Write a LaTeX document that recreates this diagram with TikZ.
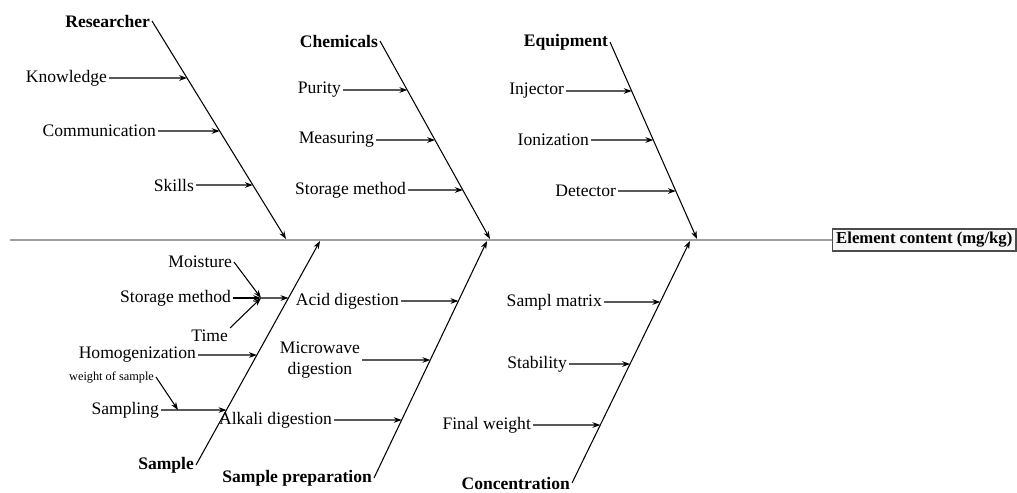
\documentclass[tikz,border=0pt]{standalone}
\usepackage{fontspec}
\setmainfont{Liberation Serif}
\usetikzlibrary{arrows.meta,positioning}

\begin{document}
\begin{tikzpicture}[
    x=0.02cm, y=-0.02cm,
    cause/.style={font=\bfseries, inner sep=1pt, anchor=east},
    factor/.style={inner sep=1pt, anchor=east, align=center},
    arrow/.style={-{Stealth[length=4.5pt,width=3.2pt]}, line width=0.6pt},
    spine/.style={line width=1.2pt, gray!75},
    result/.style={rectangle, draw=black!70, fill=gray!6, line width=0.8pt, inner sep=2pt, anchor=west, font=\bfseries\fontsize{9.5}{11}\selectfont}
]
\useasboundingbox (0,0) rectangle (1017,493);

% spine and effect
\node[result] (element) at (832,240) {Element content (mg/kg)};
\coordinate (tail) at (10,240);
\draw[spine] (tail) -- (element.west);

% main causes
\node[cause] (researcher) at (152,21) {Researcher};
\node[cause] (chemicals) at (380,41) {Chemicals};
\node[cause] (equipment) at (610,42) {Equipment};
\node[cause] (sample) at (196,465) {Sample};
\node[cause] (preparation) at (374,478) {Sample preparation};
\node[cause] (concentration) at (572,483) {Concentration};

\coordinate (researcher-tip) at (286,239);
\coordinate (chemicals-tip) at (490,239);
\coordinate (equipment-tip) at (697,239);
\coordinate (sample-tip) at (320,241);
\coordinate (preparation-tip) at (487,241);
\coordinate (concentration-tip) at (690,241);

\foreach \b in {researcher,chemicals,equipment,sample,preparation,concentration}
    \draw[arrow] (\b.east) -- (\b-tip);

% sub causes
\foreach \n/\x/\y/\t/\b in {
    knowledge/109/78/Knowledge/researcher,
    communication/158/131/Communication/researcher,
    skills/196/185/Skills/researcher,
    purity/343/90/Purity/chemicals,
    measuring/376/140/Measuring/chemicals,
    storagec/408/190/Storage method/chemicals,
    injector/566/91/Injector/equipment,
    ionization/591/140/Ionization/equipment,
    detector/618/191/Detector/equipment,
    homogenization/198/355/Homogenization/sample,
    sampling/161/410/Sampling/sample,
    acid/401/301/Acid digestion/preparation,
    microwave/362/360/{Microwave\\digestion}/preparation,
    alkali/334/420/Alkali digestion/preparation,
    matrix/604/302/Sampl matrix/concentration,
    stability/569/364/Stability/concentration,
    weight/533/425/Final weight/concentration}
{
    \node[factor] (\n) at (\x,\y) {\t};
    \draw[arrow] (\n.east) -- (intersection of \n.east--\n.west and \b.east--\b-tip);
}

% storage of the sample
\node[factor] (moisture) at (234,262) {Moisture};
\node[factor] (storages) at (233,298) {Storage method};
\node[factor] (time) at (230,336) {Time};
\coordinate (jx) at (261,0);
\coordinate (junction) at (storages.east -| jx);
\draw[arrow] (moisture.east) -- (junction);
\draw[arrow] (storages.east) -- (junction);
\draw[arrow] (time.north east) -- (junction);
\draw[arrow] (junction) -- (intersection of storages.east--junction and sample.east--sample-tip);

% weight into sampling
\node[factor, font=\fontsize{7}{8}\selectfont] (sampleweight) at (156,377) {weight of sample};
\coordinate (wx) at (178,0);
\coordinate (wjoin) at (sampling.east -| wx);
\draw[arrow] (sampleweight.east) -- (wjoin);
\end{tikzpicture}
\end{document}
